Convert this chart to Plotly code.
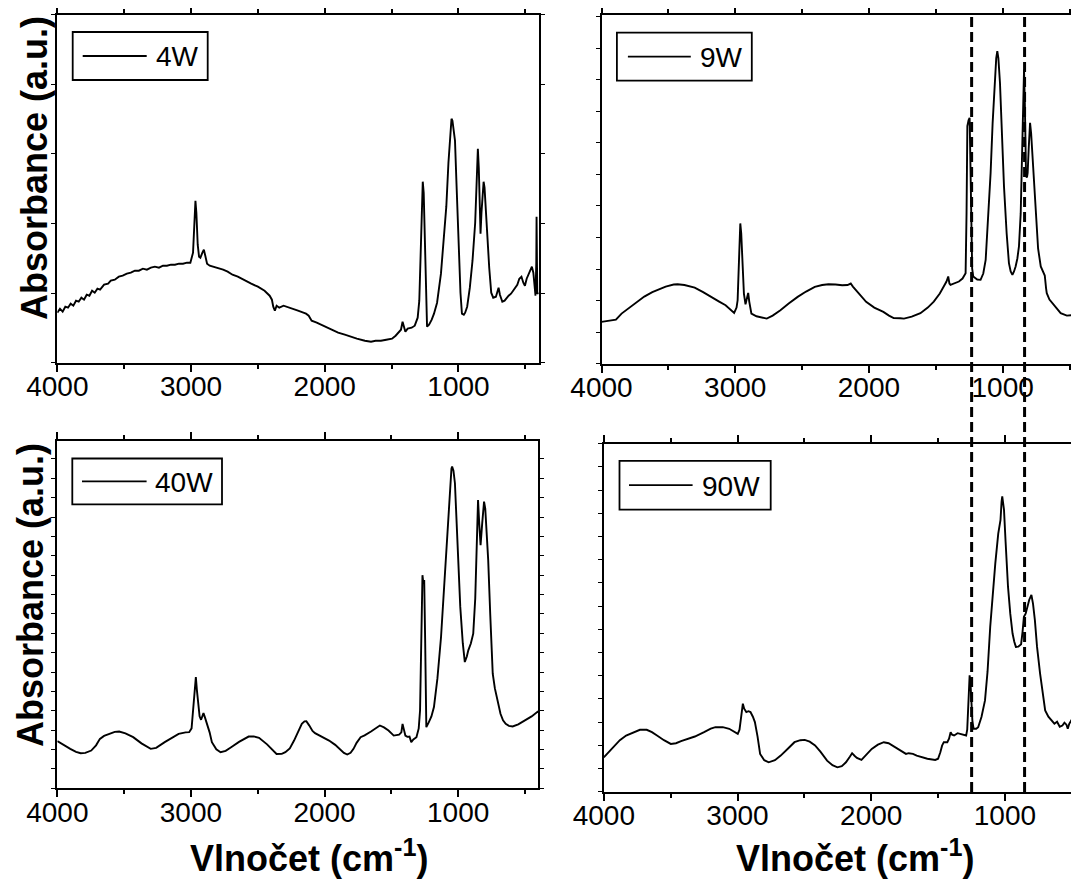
import plotly.graph_objects as go

# page is 1079x882; the browser body keeps an 8px margin, so the figure is 8px smaller
PAGE_W, PAGE_H = 1079, 882
OFF = 8
W, H = PAGE_W - OFF, PAGE_H - OFF

# ---------------- data (wavenumber in cm-1, absorbance in a.u.) ----------------
wn_4w = [4000, 3980, 3960, 3940, 3920, 3900, 3880, 3860, 3840, 3820, 3800, 3780, 3760, 3740, 3720,
         3700, 3680, 3650, 3620, 3600, 3570, 3540, 3511, 3480, 3450, 3420, 3390, 3360, 3330, 3300,
         3270, 3240, 3210, 3180, 3150, 3120, 3090, 3060, 3030, 3005, 2985, 2975, 2967, 2960, 2950,
         2940, 2930, 2915, 2904, 2895, 2880, 2860, 2830, 2800, 2760, 2726, 2690, 2650, 2595, 2550,
         2500, 2450, 2412, 2395, 2385, 2373, 2360, 2340, 2308, 2260, 2200, 2160, 2140, 2120, 2098,
         2060, 2000, 1941, 1900, 1850, 1811, 1760, 1700, 1654, 1620, 1580, 1540, 1497, 1470, 1444,
         1430, 1418, 1410, 1397, 1380, 1350, 1327, 1305, 1293, 1280, 1272, 1267, 1260, 1252, 1245,
         1235, 1220, 1200, 1183, 1160, 1131, 1110, 1091, 1075, 1060, 1052, 1045, 1035, 1026, 1015,
         1000, 985, 974, 960, 950, 935, 915, 895, 875, 862, 855, 848, 840, 835, 828,
         820, 812, 805, 795, 783, 770, 755, 740, 720, 710, 700, 690, 672, 655, 640,
         625, 607, 585, 560, 545, 529, 515, 503, 490, 470, 451, 440, 430, 424, 418,
         416, 413, 410, 400]
abs_4w = [50, 54, 51, 56, 55, 59, 57, 62, 61, 65, 63, 68, 67, 72, 70,
          74, 73, 78, 79, 82, 83, 86, 87, 89, 90, 92, 92, 94, 93, 95,
          96, 95, 97, 97, 98, 98, 99, 99, 100, 100, 110, 140, 162, 150, 118,
          106, 105, 110, 113, 108, 99, 97, 96, 95, 93, 91, 88, 86, 82, 79,
          76, 72, 67, 63, 56, 52, 57, 55, 57, 55, 52, 50, 49, 47, 42,
          40, 36, 32, 30, 28, 26, 24, 22, 21, 22, 22, 23, 24, 27, 31,
          33, 41, 38, 31, 34, 35, 37, 45, 62, 120, 178, 181, 170, 129, 70,
          36, 38, 43, 49, 60, 89, 120, 156, 200, 235, 244, 242, 232, 222, 180,
          122, 70, 49, 48, 50, 56, 75, 102, 140, 185, 214, 195, 140, 129, 150,
          168, 181, 175, 150, 122, 95, 70, 65, 66, 72, 75, 68, 61, 62, 65,
          67, 69, 73, 78, 84, 86, 80, 77, 84, 90, 96, 90, 75, 67, 100,
          146, 100, 69, 70]

wn_9w = [4000, 3950, 3892, 3850, 3800, 3738, 3680, 3620, 3585, 3520, 3460, 3431, 3380, 3303, 3240,
         3174, 3120, 3072, 3030, 3008, 2990, 2982, 2970, 2962, 2955, 2945, 2935, 2923, 2910, 2903,
         2895, 2879, 2841, 2800, 2764, 2720, 2662, 2600, 2533, 2470, 2405, 2350, 2303, 2250, 2200,
         2160, 2136, 2120, 2097, 2060, 2021, 1960, 1892, 1850, 1815, 1765, 1738, 1680, 1615, 1560,
         1515, 1470, 1440, 1420, 1407, 1398, 1390, 1360, 1327, 1300, 1277, 1270, 1264, 1255, 1247,
         1241, 1235, 1228, 1220, 1190, 1165, 1145, 1127, 1110, 1090, 1075, 1060, 1048, 1040, 1032,
         1020, 1005, 990, 970, 953, 940, 927, 915, 903, 890, 878, 865, 853, 846, 840,
         834, 825, 818, 813, 805, 795, 787, 778, 765, 753, 735, 715, 700, 690, 685,
         675, 670, 650, 628, 600, 566, 520, 490, 466, 450, 441, 423]
abs_9w = [41.7, 42.5, 44, 50, 55, 61.7, 67, 71.5, 73.3, 77, 79, 79.3, 78.5, 76, 71.5,
          66.7, 62, 58.3, 53, 50.7, 56, 63.3, 110, 140, 130, 96.7, 70, 59.3, 66, 70.7,
          62, 50, 47.3, 46, 45, 48, 53.3, 60, 66.7, 72, 76.7, 78.5, 79.3, 79, 78.3,
          78.5, 80, 77, 73.3, 67, 61.7, 56, 51.7, 48, 45.5, 45.4, 45, 47, 50.4, 56,
          62, 70, 77, 82, 87, 80, 78.7, 80, 82, 85, 90.4, 150, 237, 243, 245.4,
          200, 130.4, 95, 87, 84, 83.7, 90, 103.7, 140, 190.4, 240, 280.4, 305, 312, 305,
          280.4, 230, 177, 130, 100.4, 92, 88.7, 92, 97, 105, 117, 150, 213.7, 270, 293.7,
          260, 187, 186, 190.4, 215, 240.4, 230, 210.4, 175, 150.4, 115, 97, 92, 88.7, 88,
          75, 70.4, 64, 60.4, 55, 50.4, 48, 48.5, 48.7, 52, 55.4, 57.7]

wn_40w = [4000, 3950, 3903, 3860, 3825, 3790, 3746, 3710, 3681, 3650, 3615, 3570, 3537, 3490, 3432,
          3370, 3301, 3260, 3196, 3140, 3092, 3040, 3013, 2995, 2982, 2970, 2963, 2955, 2945, 2935,
          2924, 2913, 2906, 2895, 2882, 2860, 2843, 2810, 2778, 2740, 2699, 2640, 2568, 2530, 2490,
          2430, 2359, 2320, 2293, 2260, 2228, 2195, 2170, 2150, 2136, 2115, 2090, 2071, 2020, 1966,
          1920, 1887, 1855, 1830, 1805, 1783, 1760, 1730, 1700, 1652, 1610, 1586, 1555, 1521, 1482,
          1442, 1425, 1416, 1408, 1395, 1380, 1364, 1351, 1335, 1312, 1295, 1285, 1275, 1267, 1260,
          1254, 1247, 1238, 1220, 1200, 1181, 1155, 1128, 1100, 1076, 1060, 1050, 1045, 1035, 1024,
          1005, 984, 965, 950, 935, 924, 905, 887, 872, 860, 851, 842, 832, 820, 806,
          797, 785, 775, 760, 741, 725, 710, 695, 683, 664, 644, 620, 592, 550, 500,
          450, 408, 400]
abs_40w = [47.2, 43, 39.5, 36.5, 35.1, 35.5, 37.8, 43, 49.5, 52.5, 54.5, 56.5, 56.9, 55, 51.2,
           45, 39.5, 40.5, 46.2, 51, 54.5, 56, 56.2, 60, 77.9, 100, 111.4, 98, 81.3, 72,
           68.6, 73, 75.3, 71, 66.2, 56, 46.2, 39, 36.1, 37.5, 41.1, 46.5, 51.8, 52, 50.5,
           44, 34.4, 34.5, 36.1, 40, 47.8, 57, 64.5, 67, 67.2, 63, 57.5, 55.2, 52, 47.8,
           43.5, 39.5, 35.5, 33.8, 35.5, 39.5, 45.5, 51.2, 53, 56.9, 61, 62.9, 61, 57.9, 52.8,
           53.8, 56, 64.5, 60, 52.8, 51.5, 51.8, 46.2, 49, 51.2, 60, 77.9, 150, 213.4, 205,
           208.4, 150, 61.2, 66, 72, 81.3, 110, 151.5, 210, 271.9, 305, 320, 322.1, 318, 305.4,
           250, 181.6, 145, 126.4, 132, 138.1, 145, 154.8, 190, 250, 288.6, 265, 243.5, 265, 287,
           280, 255, 228.4, 175, 114.7, 100, 91.3, 82, 74.6, 68, 64.5, 62.5, 61.9, 64, 67.9,
           72, 76.3, 77]

wn_90w = [4000, 3960, 3923, 3880, 3833, 3780, 3730, 3679, 3640, 3602, 3550, 3499, 3460, 3422, 3370,
          3319, 3250, 3200, 3165, 3110, 3062, 3020, 2998, 2985, 2970, 2960, 2950, 2934, 2918, 2903,
          2885, 2870, 2850, 2831, 2800, 2767, 2720, 2677, 2620, 2574, 2530, 2497, 2460, 2420, 2380,
          2330, 2290, 2253, 2220, 2189, 2160, 2143, 2125, 2107, 2073, 2040, 1996, 1950, 1906, 1870,
          1829, 1790, 1740, 1720, 1688, 1660, 1624, 1580, 1521, 1500, 1483, 1470, 1457, 1431, 1418,
          1406, 1395, 1380, 1354, 1320, 1290, 1282, 1277, 1270, 1264, 1258, 1252, 1243, 1234, 1215,
          1200, 1175, 1149, 1130, 1110, 1090, 1072, 1050, 1033, 1025, 1020, 1013, 1007, 995, 977,
          960, 943, 930, 918, 900, 879, 868, 858, 845, 833, 818, 802, 790, 776, 760,
          737, 720, 699, 675, 647, 630, 610, 590, 570, 555, 540, 530, 519, 505, 490,
          478, 468, 455, 446]
abs_90w = [34.4, 40, 46.2, 51.5, 56.2, 59.5, 61.9, 61.9, 59.5, 56.2, 51.5, 47.8, 48.5, 50.5, 52.5,
           55.2, 59.5, 63, 64.5, 64.5, 62.9, 59.5, 57.9, 62, 80, 88, 83, 79.6, 80.5, 79.6,
           75, 69.6, 55, 37.8, 31.5, 29.4, 31.5, 36.1, 43.5, 49.5, 51.5, 51.8, 50, 46.2, 40,
           31.1, 26.5, 24.4, 25.5, 29.4, 35, 38.5, 36, 33.8, 31.8, 37, 42.8, 47, 49.5, 48.5,
           45.2, 41.5, 37.8, 38.5, 37.8, 36, 34.4, 33, 31.8, 33, 39.5, 46, 49.5, 49.5, 53,
           59.5, 57, 56.2, 58.5, 57.5, 56.2, 62, 74.6, 105, 116.4, 110, 94.6, 70, 62.9, 63,
           64.5, 75, 91.3, 120, 164.9, 200, 228.4, 258, 271.9, 290, 295.3, 288, 282, 250, 205,
           178, 158.2, 150, 144.8, 145, 147.5, 160, 174.9, 178, 184.9, 192, 196.7, 188, 171.6, 145,
           118.1, 100, 81.3, 75, 71.2, 68, 70, 65, 66.2, 69, 67, 63, 67.9, 71, 68,
           74, 72.9, 76, 73]

labels = ["4W", "9W", "40W", "90W"]
x_ticks = [4000, 3000, 2000, 1000]
marker_lines = [1232, 836]   # dashed reference lines (cm-1)

# ---------------- helpers: page pixel -> paper fraction ----------------
def px(x):
    return (x - OFF) / W

def py(y):
    return 1 - (y - OFF) / H

FONT = "Arial, Liberation Sans, sans-serif"

# panel geometry in page pixels: (left, right, top, bottom)
panels = [
    dict(ax="", dom=(57.3, 538.7, 14.7, 362.7), xend=400, ydt=69.6, mirror_y=True),
    dict(ax="2", dom=(601.5, PAGE_W, 15.0, 363.7), xend=429, ydt=31.5, mirror_y=False),
    dict(ax="3", dom=(57.3, 538.3, 440.7, 788.3), xend=400, ydt=19.4, mirror_y=True),
    dict(ax="4", dom=(603.8, PAGE_W, 443.7, 791.7), xend=446, ydt=23.2, mirror_y=False),
]
series = [(wn_4w, abs_4w), (wn_9w, abs_9w), (wn_40w, abs_40w), (wn_90w, abs_90w)]

fig = go.Figure()
layout = dict(
    width=W, height=H,
    margin=dict(l=0, r=0, t=0, b=0, pad=0, autoexpand=False),
    paper_bgcolor="white", plot_bgcolor="white",
    showlegend=False,
    font=dict(family=FONT, color="black"),
)

for p, (xs, ys), lab in zip(panels, series, labels):
    a = p["ax"]
    l, r, t, b = p["dom"]
    fig.add_trace(go.Scatter(x=xs, y=ys, mode="lines", name=lab,
                             line=dict(color="black", width=1.9),
                             xaxis="x" + a, yaxis="y" + a, showlegend=False))
    layout["xaxis" + a] = dict(
        domain=[max(0, px(l)), min(1, px(r))], anchor="y" + a, range=[4000, p["xend"]],
        automargin=False,
        tickvals=x_ticks, ticks="outside", ticklen=7, tickwidth=1.6, tickcolor="black",
        ticklabelstandoff=-9,
        minor=dict(dtick=500, tick0=0, ticks="outside", ticklen=4, tickwidth=1.6, tickcolor="black"),
        showline=True, linewidth=1.8, linecolor="black", mirror="ticks",
        showgrid=False, zeroline=False,
        tickfont=dict(family=FONT, size=28, color="black"),
    )
    layout["yaxis" + a] = dict(
        domain=[py(b), py(t)], anchor="x" + a, range=[0, 348],
        automargin=False,
        tick0=0, dtick=p["ydt"], ticks="outside", ticklen=4, tickwidth=1.4, tickcolor="black",
        showticklabels=False, showline=True, linewidth=1.8, linecolor="black",
        mirror="ticks" if p["mirror_y"] else False,
        showgrid=False, zeroline=False,
    )

fig.update_layout(**layout)

# ---------------- legend boxes (drawn per panel) ----------------
legend_boxes = [
    (72.7, 32.0, 207.7, 80.0, 82.7, 146.7, 155.0),
    (616.9, 32.7, 751.8, 80.7, 627.9, 690.8, 698.7),
    (72.3, 458.5, 222.0, 504.3, 82.0, 146.6, 153.6),
    (619.5, 460.8, 770.7, 509.6, 629.0, 692.6, 701.2),
]
for (bx0, by0, bx1, by1, lx0, lx1, tx), lab in zip(legend_boxes, labels):
    ym = (by0 + by1) / 2
    fig.add_shape(type="rect", xref="paper", yref="paper",
                  x0=px(bx0), x1=px(bx1), y0=py(by1), y1=py(by0),
                  line=dict(color="black", width=1.8), fillcolor="white", layer="above")
    fig.add_shape(type="line", xref="paper", yref="paper",
                  x0=px(lx0), x1=px(lx1), y0=py(ym), y1=py(ym),
                  line=dict(color="black", width=1.8), layer="above")
    fig.add_annotation(text=lab, xref="paper", yref="paper", x=px(tx - 1), y=py(ym + 1),
                       xanchor="left", yanchor="middle", showarrow=False,
                       font=dict(family=FONT, size=28, color="black"))

# ---------------- dashed reference lines ----------------
for wv in marker_lines:
    fig.add_shape(type="line", xref="x2", yref="paper", x0=wv, x1=wv,
                  y0=py(792), y1=py(13),
                  line=dict(color="black", width=3, dash="10px,5px"), layer="above")

# ---------------- axis titles ----------------
for xc, yc in ((35, 168), (30, 595)):
    fig.add_annotation(text="<b>Absorbance (a.u.)</b>", xref="paper", yref="paper",
                       x=px(xc), y=py(yc), xanchor="center", yanchor="middle",
                       textangle=-90, showarrow=False,
                       font=dict(family=FONT, size=36, color="black"))
for xc in (309, 855):
    fig.add_annotation(text="<b>Vlnočet (cm<sup>-1</sup>)</b>", xref="paper", yref="paper",
                       x=px(xc), y=py(881), xanchor="center", yanchor="bottom",
                       showarrow=False, font=dict(family=FONT, size=36, color="black"))

fig.write_html("out.html")
